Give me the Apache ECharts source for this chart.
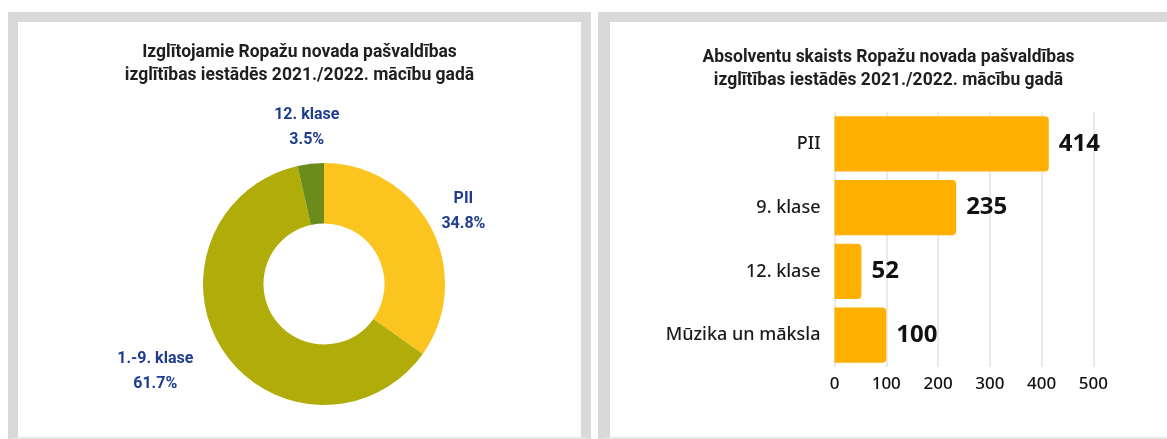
<!DOCTYPE html>
<html>
<head>
<meta charset="utf-8">
<script src="https://cdn.jsdelivr.net/npm/echarts@6/dist/echarts.min.js"></script>
<style>
  html, body { margin: 0; padding: 0; background: #fff; }
  .panel { position: absolute; background: #fff; box-sizing: content-box; }
  #panelLeft { left: 8px; top: 12px; width: 563px; height: 415px;
    border: 10px solid #d9d9d9; border-bottom: 2px solid #e8e8e8; }
  #panelRight { left: 598px; top: 12px; width: 557px; height: 415px;
    border-left: 12px solid #d9d9d9; border-top: 10px solid #d9d9d9; border-bottom: 2px solid #e8e8e8; }
  .chart { width: 100%; height: 100%; }
</style>
</head>
<body>
<div class="panel" id="panelLeft"><div class="chart" id="pieChart"></div></div>
<div class="panel" id="panelRight"><div class="chart" id="barChart"></div></div>
<script>
  // donut: shares of learners
  const pieNames = ['PII', '1.-9. klase', '12. klase'];
  const pieValues = [34.8, 61.7, 3.5];
  const pieColors = ['#fcc41f', '#b0ad0b', '#6b8b1a'];

  // bars: graduates
  const barCategories = ['PII', '9. klase', '12. klase', 'Mūzika un māksla'];
  const barValues = [414, 235, 52, 100];
  const xTicks = [0, 100, 200, 300, 400, 500];

  const pieTitle = 'Izglītojamie Ropažu novada pašvaldības\nizglītības iestādēs 2021./2022. mācību gadā';
  const barTitle = 'Absolventu skaists Ropažu novada pašvaldības\nizglītības iestādēs 2021./2022. mācību gadā';

  const titleStyle = { fontFamily: 'Roboto', fontWeight: 'bold', fontSize: 17.5, lineHeight: 23, color: '#1f1f1f' };

  let pieChart = echarts.init(document.getElementById('pieChart'));
  pieChart.setOption({
    animation: false,
    title: {
      text: pieTitle,
      left: 'center',
      top: 19,
      padding: 0,
      textStyle: titleStyle
    },
    series: [{
      type: 'pie',
      center: [306, 262],
      radius: [60.5, 121],
      startAngle: 90,
      avoidLabelOverlap: false,
      percentPrecision: 1,
      data: pieNames.map(function (n, i) {
        return { name: n, value: pieValues[i], itemStyle: { color: pieColors[i] } };
      }),
      label: {
        show: true,
        position: 'outside',
        distanceToLabelLine: 0,
        formatter: '{n|{b}}\n{n|{d}%}',
        rich: {
          n: { align: 'center', fontFamily: 'Roboto', fontWeight: 'bold', fontSize: 16, lineHeight: 25, color: '#1e3d8f' }
        }
      },
      labelLine: { show: false, length: 36, length2: 0 },
      labelLayout: function (params) {
        return { align: params.dataIndex === 1 ? 'right' : 'center' };
      },
      emphasis: { disabled: true }
    }]
  });

  let barChart = echarts.init(document.getElementById('barChart'));
  barChart.setOption({
    animation: false,
    title: {
      text: barTitle,
      left: 'center',
      top: 24,
      padding: 0,
      textStyle: titleStyle
    },
    grid: { left: 224.5, right: 73.7, top: 90, bottom: 70 },
    xAxis: {
      type: 'value',
      min: xTicks[0],
      max: xTicks[xTicks.length - 1],
      interval: xTicks[1] - xTicks[0],
      axisLine: { show: false },
      axisTick: { show: false },
      splitLine: { lineStyle: { color: '#e3e3e3', width: 1.5 } },
      axisLabel: { margin: 9, fontFamily: 'Noto Sans', fontWeight: 500, fontSize: 17, color: '#111' }
    },
    yAxis: {
      type: 'category',
      inverse: true,
      data: barCategories,
      axisLine: { show: false },
      axisTick: { show: false },
      axisLabel: { margin: 14, fontFamily: 'Noto Sans', fontWeight: 500, fontSize: 18, color: '#1a1a1a' }
    },
    series: [{
      type: 'bar',
      data: barValues,
      barCategoryGap: '13%',
      itemStyle: { color: '#ffb000', borderRadius: [0, 4, 4, 0] },
      label: {
        show: true,
        position: 'right',
        distance: 10,
        fontFamily: 'Noto Sans',
        fontWeight: 'bold',
        fontSize: 24,
        color: '#111'
      },
      emphasis: { disabled: true }
    }]
  });
</script>
</body>
</html>
